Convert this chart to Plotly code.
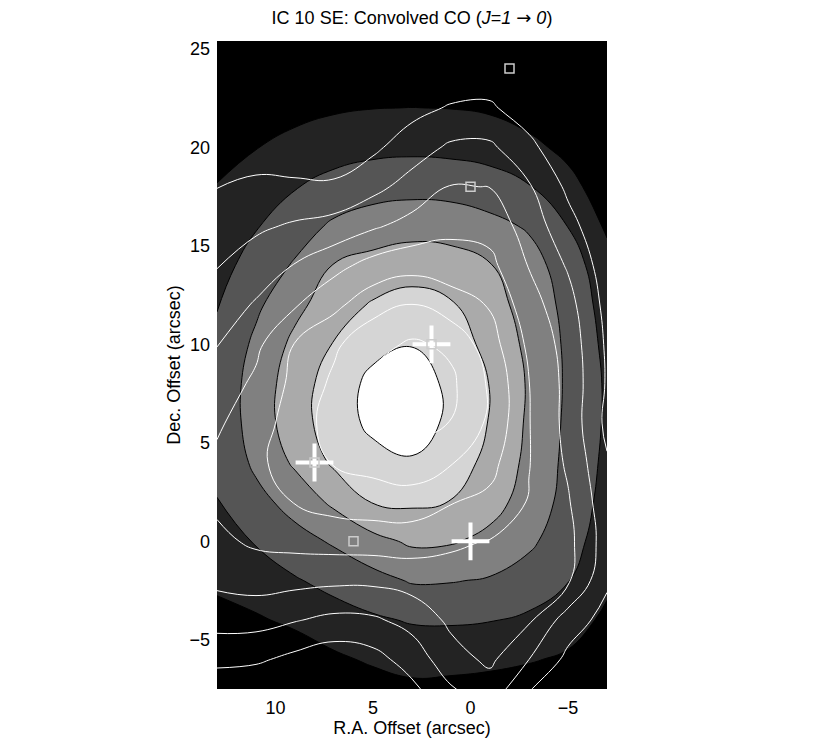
import plotly.graph_objects as go

# grid of the maps (arcsec offsets)
ra_nodes = [13, 11, 9, 7, 5, 3, 1, -1, -3, -5, -7]
dec_nodes = [-8, -6, -4, -2, 0, 2, 4, 6, 8, 10, 12, 14, 16, 18, 20, 22, 24, 26]

# convolved CO intensity (filled, grey levels), one row per dec node
co_conv = [
    [-0.08, -0.29, -0.26, 0.10, 0.41, 0.61, 0.54, 0.44, 0.32, 0.26, -0.52],
    [0.33, 0.30, 0.46, 0.83, 1.13, 1.34, 1.32, 1.24, 1.08, 0.85, 0.14],
    [0.74, 0.89, 1.18, 1.56, 1.86, 2.08, 2.11, 2.04, 1.83, 1.44, 0.80],
    [1.16, 1.48, 1.91, 2.31, 2.68, 3.08, 3.05, 2.91, 2.56, 2.03, 1.20],
    [1.57, 2.07, 2.64, 3.12, 3.70, 4.16, 4.09, 3.73, 3.18, 2.44, 1.45],
    [1.98, 2.68, 3.38, 4.20, 5.06, 5.16, 4.98, 4.37, 3.59, 2.66, 1.65],
    [2.15, 3.20, 4.15, 5.17, 5.65, 5.92, 5.45, 4.75, 3.75, 2.75, 1.78],
    [2.32, 3.41, 4.56, 5.50, 6.23, 6.38, 5.84, 4.94, 3.84, 2.81, 1.86],
    [2.32, 3.41, 4.53, 5.46, 6.26, 6.39, 5.83, 4.97, 3.89, 2.85, 1.87],
    [2.14, 3.20, 4.24, 5.05, 5.72, 5.97, 5.50, 4.72, 3.77, 2.83, 1.76],
    [1.97, 2.82, 3.73, 4.55, 5.10, 5.36, 5.10, 4.39, 3.61, 2.73, 1.60],
    [1.66, 2.38, 3.11, 4.05, 4.33, 4.58, 4.41, 4.05, 3.39, 2.53, 1.35],
    [1.35, 1.94, 2.53, 3.17, 3.49, 3.61, 3.60, 3.29, 2.89, 1.98, 0.85],
    [1.03, 1.46, 1.95, 2.33, 2.60, 2.70, 2.62, 2.43, 2.05, 1.36, 0.40],
    [0.72, 0.97, 1.32, 1.59, 1.73, 1.78, 1.74, 1.61, 1.28, 0.71, 0.00],
    [0.40, 0.48, 0.69, 0.88, 0.98, 1.01, 0.98, 0.87, 0.51, 0.07, -0.40],
    [0.09, 0.00, 0.06, 0.18, 0.24, 0.24, 0.22, 0.13, -0.25, -0.57, -0.80],
    [-0.22, -0.49, -0.57, -0.52, -0.51, -0.53, -0.54, -0.61, -1.00, -1.20, -1.20],
]

# overlay map drawn as white contour lines
overlay = [
    [0.10, -0.12, -0.60, -1.00, -0.90, 0.55, 1.67, 2.30, 0.80, 0.30, -0.20],
    [1.25, 1.16, 0.73, 0.37, 0.64, 1.44, 2.60, 3.20, 2.00, 0.75, 0.20],
    [2.38, 2.36, 2.06, 1.76, 1.85, 2.34, 3.21, 3.36, 3.14, 1.50, 0.65],
    [3.21, 3.39, 3.29, 3.20, 3.20, 3.41, 3.64, 3.66, 3.40, 3.15, 1.15],
    [3.79, 4.16, 4.31, 4.41, 4.45, 4.45, 4.14, 3.96, 3.67, 3.30, 1.50],
    [4.17, 4.58, 5.04, 5.36, 5.49, 5.55, 5.05, 4.78, 3.93, 3.10, 1.35],
    [4.18, 4.82, 5.41, 6.07, 6.33, 6.59, 6.07, 5.30, 4.04, 2.85, 1.10],
    [3.87, 4.51, 5.49, 6.41, 7.04, 7.22, 6.98, 5.80, 4.04, 2.70, 0.75],
    [3.42, 4.20, 5.27, 6.19, 7.25, 7.41, 7.20, 5.85, 4.02, 2.70, 0.90],
    [2.97, 3.77, 5.05, 5.83, 6.65, 7.15, 6.80, 5.43, 3.80, 2.60, 0.85],
    [2.46, 3.10, 3.91, 4.75, 5.64, 6.02, 5.44, 4.93, 3.40, 2.35, 0.70],
    [1.96, 2.47, 3.05, 3.69, 4.35, 4.65, 4.51, 4.27, 2.95, 1.90, 0.50],
    [1.47, 1.84, 2.12, 2.36, 2.87, 3.34, 3.74, 3.63, 2.55, 1.35, 0.20],
    [0.98, 1.19, 1.21, 1.21, 1.72, 2.38, 3.05, 2.98, 2.10, 0.80, -0.20],
    [0.49, 0.55, 0.29, 0.15, 0.80, 1.54, 2.16, 2.17, 1.30, 0.10, -0.50],
    [0.00, -0.09, -0.60, -0.90, 0.10, 0.68, 1.10, 1.16, 0.40, -0.60, -0.80],
    [-0.50, -0.70, -1.00, -1.00, -0.70, -0.20, 0.19, 0.30, -0.40, -1.00, -1.00],
    [-1.00, -1.00, -1.00, -1.00, -1.00, -1.00, -1.00, -1.00, -1.00, -1.00, -1.00],
]

# source positions
plus_ra = [0, 2, 8]
plus_dec = [0, 10, 4]
box_ra = [-2, 0, 6, 2, 8]
box_dec = [24, 18, 0, 10, 4]

greys = ['#000000', '#232323', '#555555', '#808080', '#aaaaaa', '#d5d5d5', '#ffffff']
grey_scale = [[i / 6, c] for i, c in enumerate(greys)]

fig = go.Figure()

fig.add_trace(go.Contour(
    x=ra_nodes, y=dec_nodes, z=co_conv,
    contours=dict(start=1, end=6, size=1, coloring='fill'),
    colorscale=grey_scale,
    line=dict(color='black', width=1, smoothing=1.3),
    showscale=False, hoverinfo='skip'))

fig.add_trace(go.Contour(
    x=ra_nodes, y=dec_nodes, z=overlay,
    contours=dict(start=1, end=7, size=1, coloring='none'),
    line=dict(color='white', width=1, smoothing=1.3),
    showscale=False, hoverinfo='skip'))

fig.add_trace(go.Scatter(
    x=plus_ra, y=plus_dec, mode='markers',
    marker=dict(symbol='cross-thin', size=27, line=dict(color='white', width=4)),
    hoverinfo='skip'))

fig.add_trace(go.Scatter(
    x=box_ra, y=box_dec, mode='markers',
    marker=dict(symbol='square-open', size=9, color='#cccccc', line=dict(width=1.5)),
    hoverinfo='skip'))

# the page body adds an 8 px offset, so the figure is 8 px smaller each way
fig.update_layout(
    width=822, height=730,
    margin=dict(l=209, r=223, t=33, b=49),
    paper_bgcolor='white', plot_bgcolor='black',
    showlegend=False,
    font=dict(family='Liberation Sans, Arial, sans-serif', size=18, color='black'),
    title=dict(text='IC 10 SE: Convolved CO (<i>J</i>=<i>1</i> '
                    '<span style="font-family:DejaVu Sans">\u2192</span> <i>0</i>)',
               x=0.5, xref='paper', y=1 - 10 / 730, yref='container',
               yanchor='middle', font=dict(size=18)),
)
fig.update_xaxes(range=[13, -7], tickvals=[10, 5, 0, -5], showgrid=False,
                 zeroline=False, showline=False, ticks='', ticklabelstandoff=6,
                 automargin=False, tickfont=dict(size=18),
                 title=dict(text='R.A. Offset (arcsec)', standoff=3, font=dict(size=18)))
fig.update_yaxes(range=[-7.5, 25.4], tickvals=[-5, 0, 5, 10, 15, 20, 25], showgrid=False,
                 zeroline=False, showline=False, ticks='', ticklabelstandoff=6,
                 automargin=False, tickfont=dict(size=18),
                 title=dict(text='Dec. Offset (arcsec)', standoff=4, font=dict(size=18)))

fig.write_html("out.html")
